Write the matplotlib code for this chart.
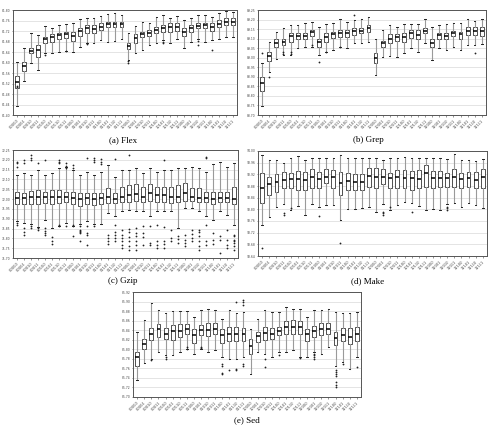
import matplotlib
matplotlib.use("Agg")
import matplotlib.pyplot as plt

# 32 configurations, same order in every panel
labels = [format(i, "05b") for i in range(32)]

# ---- Flex ----
flex_med = [81.527, 81.587, 81.645, 81.646, 81.690, 81.697, 81.705, 81.709, 81.702, 81.719, 81.730, 81.728,
            81.737, 81.746, 81.746, 81.745, 81.663, 81.692, 81.709, 81.711, 81.725, 81.730, 81.735, 81.736,
            81.716, 81.731, 81.740, 81.741, 81.737, 81.748, 81.756, 81.756]
flex_q1 = [81.502, 81.569, 81.635, 81.622, 81.673, 81.679, 81.688, 81.692, 81.683, 81.701, 81.714, 81.714,
           81.724, 81.734, 81.734, 81.734, 81.650, 81.676, 81.698, 81.701, 81.714, 81.717, 81.717, 81.721,
           81.701, 81.717, 81.730, 81.730, 81.721, 81.737, 81.743, 81.743]
flex_q3 = [81.549, 81.603, 81.656, 81.667, 81.698, 81.707, 81.714, 81.717, 81.717, 81.730, 81.743, 81.743,
           81.749, 81.756, 81.756, 81.756, 81.673, 81.709, 81.717, 81.724, 81.736, 81.743, 81.749, 81.749,
           81.730, 81.743, 81.752, 81.752, 81.749, 81.762, 81.768, 81.768]
flex_lo = [81.434, 81.530, 81.600, 81.571, 81.635, 81.635, 81.641, 81.645, 81.641, 81.660, 81.673, 81.673,
           81.686, 81.680, 81.683, 81.688, 81.610, 81.637, 81.648, 81.667, 81.673, 81.686, 81.673, 81.688,
           81.654, 81.679, 81.688, 81.680, 81.686, 81.688, 81.698, 81.698]
flex_hi = [81.603, 81.654, 81.711, 81.705, 81.739, 81.730, 81.743, 81.747, 81.749, 81.764, 81.768, 81.768,
           81.777, 81.785, 81.787, 81.781, 81.711, 81.739, 81.756, 81.752, 81.775, 81.781, 81.768, 81.777,
           81.762, 81.768, 81.781, 81.781, 81.775, 81.787, 81.797, 81.794]
flex_out = [[81.512, 81.505], [], [], [], [81.628], [], [], [81.642], [], [], [81.670, 81.676], [],
            [], [], [], [], [81.605, 81.600], [], [], [], [], [81.680, 81.676], [], [],
            [], [], [81.683, 81.665], [], [81.646], [], [], []]

# ---- Grep ----
grep_med = [88.869, 89.009, 89.079, 89.084, 89.114, 89.114, 89.114, 89.133, 89.084, 89.110, 89.124, 89.131,
            89.131, 89.142, 89.142, 89.154, 88.997, 89.075, 89.100, 89.107, 89.107, 89.131, 89.119, 89.142,
            89.079, 89.119, 89.114, 89.128, 89.124, 89.142, 89.142, 89.142]
grep_q1 = [88.827, 88.985, 89.054, 89.067, 89.084, 89.096, 89.096, 89.114, 89.058, 89.084, 89.102, 89.110,
           89.110, 89.119, 89.131, 89.133, 88.974, 89.058, 89.075, 89.089, 89.084, 89.105, 89.098, 89.128,
           89.054, 89.096, 89.096, 89.114, 89.096, 89.119, 89.119, 89.114]
grep_q3 = [88.901, 89.032, 89.096, 89.096, 89.128, 89.128, 89.131, 89.145, 89.100, 89.128, 89.137, 89.145,
           89.145, 89.154, 89.154, 89.171, 89.023, 89.089, 89.122, 89.122, 89.128, 89.145, 89.145, 89.154,
           89.100, 89.131, 89.131, 89.142, 89.137, 89.163, 89.159, 89.159]
grep_lo = [88.747, 88.927, 88.992, 89.014, 89.014, 89.050, 89.058, 89.058, 89.014, 89.032, 89.040, 89.058,
           89.050, 89.075, 89.079, 89.084, 88.910, 89.005, 89.009, 89.005, 89.023, 89.050, 89.032, 89.075,
           88.988, 89.050, 89.040, 89.058, 89.040, 89.067, 89.067, 89.072]
grep_hi = [88.970, 89.084, 89.137, 89.154, 89.171, 89.171, 89.184, 89.189, 89.163, 89.177, 89.180, 89.201,
           89.189, 89.200, 89.201, 89.215, 89.096, 89.145, 89.171, 89.163, 89.177, 89.177, 89.177, 89.201,
           89.159, 89.171, 89.177, 89.184, 89.184, 89.201, 89.194, 89.201]
grep_out = [[89.023], [88.897], [], [89.020, 89.030], [89.020, 89.030], [], [], [89.065], [88.980], [89.030], [], [89.055],
            [], [89.224], [], [], [], [], [], [], [], [], [], [],
            [], [], [], [], [], [], [89.026], []]

# ---- Gzip ----
gzip_med = [72.005, 72.008, 72.013, 72.013, 72.010, 72.010, 72.013, 72.013, 72.005, 72.000, 72.005, 72.001,
            72.005, 72.013, 72.001, 72.013, 72.022, 72.025, 72.013, 72.030, 72.022, 72.022, 72.013, 72.013,
            72.030, 72.013, 72.008, 72.005, 72.001, 72.005, 72.005, 72.001]
gzip_q1 = [71.974, 71.974, 71.974, 71.974, 71.979, 71.974, 71.979, 71.984, 71.974, 71.967, 71.974, 71.971,
           71.974, 71.979, 71.979, 71.984, 71.987, 71.991, 71.984, 71.991, 71.984, 71.984, 71.979, 71.987,
           71.991, 71.991, 71.987, 71.984, 71.974, 71.987, 71.984, 71.974]
gzip_q3 = [72.035, 72.033, 72.042, 72.047, 72.038, 72.047, 72.047, 72.038, 72.038, 72.033, 72.030, 72.030,
           72.033, 72.055, 72.030, 72.064, 72.072, 72.076, 72.064, 72.076, 72.064, 72.064, 72.064, 72.072,
           72.081, 72.055, 72.055, 72.038, 72.038, 72.038, 72.038, 72.064]
gzip_lo = [71.886, 71.878, 71.873, 71.856, 71.895, 71.852, 71.861, 71.878, 71.861, 71.873, 71.886, 71.873,
           71.873, 71.929, 71.912, 71.937, 71.945, 71.937, 71.937, 71.912, 71.937, 71.937, 71.937, 71.852,
           71.954, 71.954, 71.937, 71.912, 71.895, 71.937, 71.920, 71.869]
gzip_hi = [72.123, 72.132, 72.123, 72.148, 72.123, 72.132, 72.157, 72.165, 72.148, 72.123, 72.140, 72.123,
           72.137, 72.174, 72.115, 72.148, 72.148, 72.157, 72.132, 72.157, 72.140, 72.148, 72.148, 72.157,
           72.157, 72.165, 72.157, 72.140, 72.177, 72.191, 72.165, 72.182]
gzip_out = [[72.191, 72.182, 72.165, 71.877, 71.869],
            [72.199, 72.182, 71.852, 71.832, 71.819],
            [72.225, 72.208, 72.199, 71.861, 71.852],
            [72.182, 71.852, 71.844],
            [72.199, 71.852, 71.839, 71.827, 71.819],
            [71.805, 71.788, 71.771],
            [72.199, 72.191, 72.182, 71.869, 71.861],
            [72.182, 72.170, 72.157, 71.861],
            [72.174, 72.157, 71.869, 71.861, 71.810],
            [71.861, 71.844, 71.839, 71.832, 71.827, 71.785],
            [72.208, 71.861, 71.827, 71.819, 71.768],
            [72.208, 72.199, 72.191, 71.861],
            [72.204, 72.191, 72.177],
            [71.819, 71.802, 71.785, 71.771],
            [72.204, 71.869, 71.832, 71.819, 71.802, 71.785],
            [71.844, 71.819, 71.802, 71.785, 71.768, 71.751],
            [72.225, 71.848, 71.832, 71.805, 71.785, 71.759, 71.742],
            [71.852, 71.827, 71.810, 71.785, 71.768, 71.742],
            [71.861, 71.827, 71.805, 71.768],
            [71.861, 71.776, 71.768],
            [71.869, 71.785, 71.768, 71.751],
            [72.199, 71.856, 71.785, 71.771, 71.751],
            [71.844, 71.802, 71.785],
            [71.810, 71.798, 71.776],
            [71.819, 71.793, 71.776, 71.759],
            [71.844, 71.822, 71.802, 71.785],
            [71.844, 71.832, 71.810, 71.785, 71.759, 71.742],
            [72.216, 72.208, 71.869, 71.785, 71.768],
            [71.827, 71.793, 71.771],
            [71.810, 71.793, 71.725],
            [71.844, 71.793, 71.768, 71.751],
            [71.819, 71.810, 71.793, 71.785, 71.776, 71.759, 71.742]]

# ---- Make ----
make_med = [93.874, 93.886, 93.893, 93.901, 93.904, 93.904, 93.901, 93.912, 93.904, 93.912, 93.910, 93.889,
            93.897, 93.893, 93.893, 93.915, 93.912, 93.912, 93.906, 93.910, 93.906, 93.906, 93.904, 93.923,
            93.909, 93.909, 93.909, 93.912, 93.904, 93.906, 93.901, 93.912]
make_q1 = [93.821, 93.849, 93.861, 93.872, 93.874, 93.866, 93.866, 93.874, 93.872, 93.889, 93.872, 93.849,
           93.866, 93.866, 93.866, 93.878, 93.872, 93.886, 93.872, 93.872, 93.872, 93.866, 93.872, 93.878,
           93.874, 93.878, 93.878, 93.878, 93.872, 93.878, 93.872, 93.874]
make_q3 = [93.923, 93.912, 93.920, 93.927, 93.923, 93.931, 93.927, 93.938, 93.927, 93.938, 93.935, 93.927,
           93.923, 93.920, 93.920, 93.941, 93.943, 93.938, 93.923, 93.935, 93.935, 93.931, 93.935, 93.952,
           93.931, 93.931, 93.923, 93.938, 93.923, 93.927, 93.929, 93.938]
make_lo = [93.746, 93.775, 93.809, 93.817, 93.798, 93.811, 93.781, 93.817, 93.809, 93.815, 93.815, 93.763,
           93.800, 93.800, 93.803, 93.809, 93.792, 93.817, 93.798, 93.815, 93.826, 93.821, 93.813, 93.798,
           93.801, 93.798, 93.817, 93.821, 93.809, 93.821, 93.815, 93.803]
make_hi = [93.986, 93.969, 93.969, 93.958, 93.975, 93.984, 93.969, 93.975, 93.975, 93.975, 93.975, 93.986,
           93.975, 93.975, 93.975, 93.975, 93.975, 93.969, 93.975, 93.975, 93.981, 93.975, 93.975, 93.975,
           93.975, 93.975, 93.973, 93.989, 93.969, 93.969, 93.966, 93.973]
make_out = [[93.666], [], [], [93.786, 93.781], [93.803], [], [], [], [93.778], [], [], [93.683],
            [], [], [], [], [], [93.792, 93.786, 93.781], [93.809], [], [], [93.792], [], [],
            [], [], [93.809, 93.803, 93.798], [], [], [], [], []]

# ---- Sed ----
sed_med = [85.784, 85.812, 85.833, 85.842, 85.833, 85.838, 85.838, 85.842, 85.829, 85.840, 85.840, 85.843,
           85.829, 85.831, 85.833, 85.831, 85.807, 85.828, 85.835, 85.833, 85.838, 85.847, 85.847, 85.847,
           85.833, 85.838, 85.843, 85.843, 85.824, 85.829, 85.826, 85.833]
sed_q1 = [85.766, 85.801, 85.820, 85.826, 85.822, 85.819, 85.826, 85.831, 85.814, 85.829, 85.828, 85.831,
          85.814, 85.817, 85.817, 85.817, 85.791, 85.815, 85.819, 85.821, 85.829, 85.831, 85.833, 85.833,
          85.817, 85.826, 85.829, 85.831, 85.808, 85.817, 85.812, 85.817]
sed_q3 = [85.794, 85.822, 85.845, 85.854, 85.845, 85.850, 85.852, 85.854, 85.842, 85.850, 85.856, 85.856,
          85.843, 85.847, 85.847, 85.845, 85.822, 85.836, 85.847, 85.845, 85.847, 85.859, 85.861, 85.859,
          85.843, 85.849, 85.855, 85.855, 85.836, 85.845, 85.845, 85.847]
sed_lo = [85.735, 85.772, 85.780, 85.794, 85.787, 85.787, 85.794, 85.801, 85.791, 85.801, 85.794, 85.798,
          85.784, 85.780, 85.779, 85.784, 85.749, 85.794, 85.791, 85.784, 85.794, 85.794, 85.798, 85.784,
          85.784, 85.794, 85.791, 85.805, 85.766, 85.773, 85.759, 85.784]
sed_hi = [85.836, 85.861, 85.896, 85.882, 85.875, 85.880, 85.880, 85.880, 85.868, 85.882, 85.885, 85.882,
          85.864, 85.882, 85.875, 85.878, 85.843, 85.864, 85.882, 85.878, 85.878, 85.889, 85.885, 85.885,
          85.868, 85.882, 85.882, 85.885, 85.878, 85.875, 85.875, 85.878]
sed_out = [[], [], [85.777], [], [85.784, 85.780], [], [], [85.805, 85.801], [], [85.805, 85.803], [], [],
           [85.770, 85.766, 85.751, 85.749], [85.756], [85.899, 85.759, 85.756], [85.903, 85.899, 85.892, 85.770, 85.766],
           [], [], [85.780, 85.762], [], [85.787], [], [], [85.782],
           [], [85.791, 85.787, 85.784, 85.779], [], [], [85.756, 85.752, 85.749, 85.745, 85.732, 85.725, 85.721],
           [85.770], [], [85.763]]

panels = [
    ("(a) Flex", flex_med, flex_q1, flex_q3, flex_lo, flex_hi, flex_out, (81.40, 81.80, 0.04)),
    ("(b) Grep", grep_med, grep_q1, grep_q3, grep_lo, grep_hi, grep_out, (88.70, 89.25, 0.05)),
    ("(c) Gzip", gzip_med, gzip_q1, gzip_q3, gzip_lo, gzip_hi, gzip_out, (71.70, 72.25, 0.05)),
    ("(d) Make", make_med, make_q1, make_q3, make_lo, make_hi, make_out, (93.64, 94.00, 0.04)),
    ("(e) Sed", sed_med, sed_q1, sed_q3, sed_lo, sed_hi, sed_out, (85.70, 85.92, 0.02)),
]

W, H = 489, 429
# axes boxes in pixels: left, top, right, bottom ; caption centre x, y
boxes = [
    (13, 10, 237, 115, 123, 140),
    (258, 10, 486, 115, 368, 140),
    (13, 150, 238, 258, 123, 281),
    (258, 151, 487, 256, 368, 281),
    (133, 292, 361, 397, 247, 420),
]

fig = plt.figure(figsize=(W / 100, H / 100), dpi=100)

for (cap, med, q1, q3, lo, hi, out, (ymin, ymax, step)), (l, t, r, b, cx, cy) in zip(panels, boxes):
    ax = fig.add_axes([l / W, 1 - b / H, (r - l) / W, (b - t) / H])
    stats = [dict(med=med[i], q1=q1[i], q3=q3[i], whislo=lo[i], whishi=hi[i], fliers=out[i])
             for i in range(len(med))]
    ax.bxp(stats, widths=0.55, patch_artist=True, capwidths=0.22,
           boxprops=dict(facecolor="white", edgecolor="#333333", linewidth=0.6),
           medianprops=dict(color="black", linewidth=1.1),
           whiskerprops=dict(color="#9a9a9a", linewidth=0.8),
           capprops=dict(color="#222222", linewidth=0.7),
           flierprops=dict(marker="o", markersize=1.3, markerfacecolor="#222222",
                           markeredgewidth=0, linestyle="none"))
    n = int(round((ymax - ymin) / step))
    ticks = [ymin + k * step for k in range(n + 1)]
    ax.set_ylim(ymin, ymax)
    ax.set_yticks(ticks)
    ax.set_yticklabels([f"{v:.2f}" for v in ticks])
    ax.set_xlim(0.4, len(med) + 0.6)
    ax.set_xticks(range(1, len(med) + 1))
    ax.set_xticklabels(labels, rotation=45, ha="right", rotation_mode="anchor")
    ax.tick_params(axis="x", labelsize=2.6, length=1.5, width=0.4, pad=1, colors="#444444")
    ax.tick_params(axis="y", labelsize=2.2, length=1.0, width=0.4, pad=0.6, colors="#444444")
    ax.grid(axis="y", color="#d9d9d9", linewidth=0.5)
    ax.set_axisbelow(True)
    for s in ax.spines.values():
        s.set_color("#555555")
        s.set_linewidth(0.7)
    fig.text(cx / W, 1 - cy / H, cap, ha="center", va="center",
             family="Liberation Serif", fontsize=6.5)

fig.savefig("out.png", dpi=100)
